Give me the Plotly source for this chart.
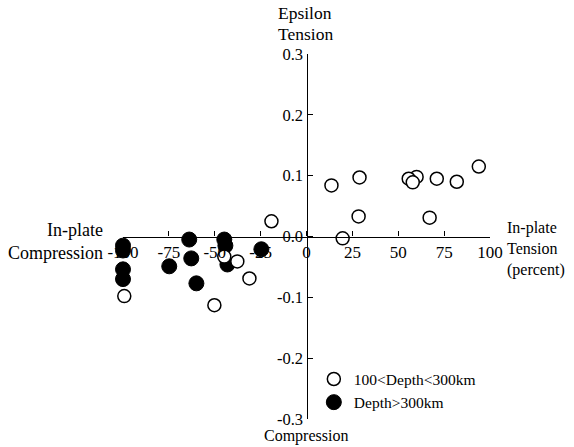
import plotly.graph_objects as go

# 100<Depth<300km (open circles)
open_x = [93.9, 81.9, 71.0, 60.0, 55.7, 57.9, 28.9, 13.6, 28.4, 67.1, 19.7,
          -19.1, -99.3, -50.2, -44.8, -37.7, -31.1]
open_y = [0.115, 0.090, 0.095, 0.098, 0.095, 0.089, 0.097, 0.084, 0.033, 0.031, -0.003,
          0.025, -0.098, -0.113, -0.033, -0.041, -0.069]

# Depth>300km (filled circles)
fill_x = [-100, -100, -100, -100, -63.9, -62.8, -74.8, -60.0, -44.8, -44.2, -43.1, -24.6]
fill_y = [-0.015, -0.023, -0.054, -0.070, -0.005, -0.036, -0.049, -0.077, -0.005, -0.015, -0.046, -0.021]

x_ticks = [-100, -75, -50, -25, 0, 25, 50, 75, 100]
x_ticktext = ["-100", "-75", "-50", "-25", "0", "25", "50", "75", "100"]
y_ticks = [0.3, 0.2, 0.1, 0.0, -0.1, -0.2, -0.3]
y_ticktext = ["0.3", "0.2", "0.1", "0.0", "-0.1", "-0.2", "-0.3"]

FONT = "Liberation Serif"

fig = go.Figure()
fig.add_trace(go.Scatter(
    x=fill_x, y=fill_y, mode="markers", name="Depth>300km", legendrank=2,
    marker=dict(size=15, color="black", line=dict(color="black", width=1)),
    cliponaxis=False))
fig.add_trace(go.Scatter(
    x=open_x, y=open_y, mode="markers", name="100<Depth<300km", legendrank=1,
    marker=dict(size=13, color="white", line=dict(color="black", width=1.5)),
    cliponaxis=False))

fig.update_layout(
    width=574, height=447,
    margin=dict(l=123, r=84, t=54, b=28),
    paper_bgcolor="white", plot_bgcolor="white",
    font=dict(family=FONT, size=16, color="black"),
    showlegend=True,
    legend=dict(x=0.52, y=0.155, xanchor="left", yanchor="top",
                bgcolor="rgba(0,0,0,0)", font=dict(size=15.5),
                itemwidth=30, tracegroupgap=0),
    xaxis=dict(range=[-100, 100], anchor="free", position=0.5, side="bottom",
               showgrid=False, zeroline=False, showline=True, linecolor="black",
               linewidth=1.2, ticks="inside", ticklen=5, tickcolor="black",
               tickvals=x_ticks, ticktext=x_ticktext, tickfont=dict(size=17)),
    yaxis=dict(range=[-0.3, 0.3], anchor="free", position=0.5, side="left",
               showgrid=False, zeroline=False, showline=True, linecolor="black",
               linewidth=1.2, ticks="inside", ticklen=5, tickcolor="black",
               tickvals=y_ticks, ticktext=y_ticktext, tickfont=dict(size=16.5)),
)

# helpers: pixel -> paper fraction (plot area spans x 123..490, y 54..419)
def px_x(p):
    return (p - 123) / 367

def px_y(p):
    return (419 - p) / 365

fig.add_annotation(text="Epsilon", xref="paper", yref="paper",
                   x=px_x(276), y=px_y(13), xanchor="left", yanchor="middle",
                   align="left", showarrow=False, font=dict(size=17.5))
fig.add_annotation(text="Tension", xref="paper", yref="paper",
                   x=px_x(276), y=px_y(34), xanchor="left", yanchor="middle",
                   align="left", showarrow=False, font=dict(size=17.5))
fig.add_annotation(text="Compression", xref="paper", yref="paper",
                   x=px_x(306), y=px_y(447), xanchor="center", yanchor="bottom",
                   showarrow=False, font=dict(size=16))
fig.add_annotation(text="In-plate<br>Compression", xref="paper", yref="paper",
                   x=px_x(105), y=px_y(241), xanchor="right", yanchor="middle",
                   align="right", showarrow=False, font=dict(size=18))
fig.add_annotation(text="In-plate<br>Tension<br>(percent)", xref="paper", yref="paper",
                   x=px_x(505), y=px_y(249), xanchor="left", yanchor="middle",
                   align="left", showarrow=False, font=dict(size=16))

fig.write_html("out.html", config={"displayModeBar": False},
               post_script="document.body.style.margin='0';document.body.style.overflow='hidden';")
